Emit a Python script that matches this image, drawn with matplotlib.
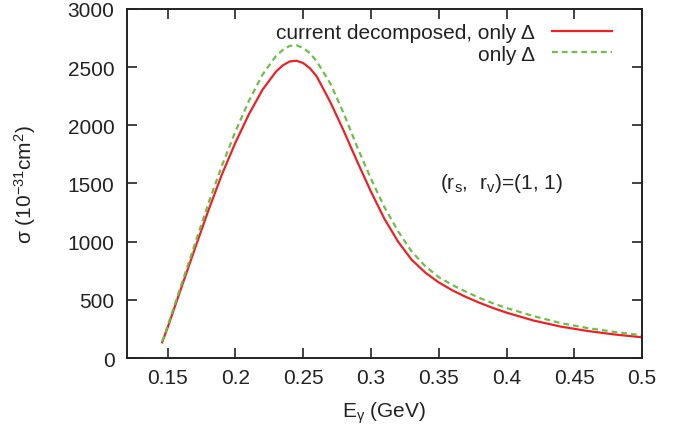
import matplotlib
matplotlib.use('Agg')
import matplotlib.pyplot as plt

plt.rcParams['font.family'] = ['Liberation Sans', 'DejaVu Sans']
plt.rcParams['mathtext.fontset'] = 'custom'
plt.rcParams['mathtext.rm'] = 'Liberation Sans'
plt.rcParams['mathtext.it'] = 'Liberation Sans:italic'

# photon energy (GeV)
e_gamma = [0.146, 0.15, 0.16, 0.17, 0.18, 0.19, 0.20, 0.21, 0.22, 0.23, 0.235,
           0.24, 0.245, 0.25, 0.255, 0.26, 0.27, 0.28, 0.29, 0.30, 0.31, 0.32,
           0.33, 0.34, 0.35, 0.36, 0.37, 0.38, 0.39, 0.40, 0.42, 0.44, 0.46,
           0.48, 0.50]
# cross sections (10^-31 cm^2)
sigma_decomposed = [135, 260, 600, 935, 1265, 1575, 1850, 2095, 2305, 2462, 2515,
                    2548, 2555, 2535, 2490, 2420, 2200, 1950, 1685, 1430, 1195, 1000,
                    845, 735, 650, 582, 525, 475, 430, 390, 322, 270, 232,
                    202, 178]
sigma_only_delta = [140, 275, 625, 975, 1325, 1650, 1945, 2210, 2435, 2596, 2648,
                    2682, 2688, 2665, 2620, 2550, 2360, 2100, 1810, 1540, 1295, 1090,
                    915, 790, 695, 628, 570, 517, 470, 430, 360, 300, 257,
                    224, 195]

x_ticks = [0.15, 0.2, 0.25, 0.3, 0.35, 0.4, 0.45, 0.5]
y_ticks = [0, 500, 1000, 1500, 2000, 2500, 3000]

fig = plt.figure(figsize=(6.86, 4.31), dpi=100)
ax = fig.add_axes([0.185, 0.167, 0.751, 0.810])

ax.plot(e_gamma, sigma_decomposed, color='#ec2227', lw=1.6,
        label='current decomposed, only Δ')
ax.plot(e_gamma, sigma_only_delta, color='#6dbf47', lw=1.6, dashes=(2.6, 1.8),
        label='only Δ')

ax.set_xlim(0.12, 0.5)
ax.set_ylim(0, 3000)
ax.set_xticks(x_ticks)
ax.set_xticklabels(['%g' % t for t in x_ticks])
ax.set_yticks(y_ticks)

txt = '#222222'
for s in ax.spines.values():
    s.set_linewidth(1.4)
    s.set_color(txt)
ax.tick_params(direction='in', length=7, width=1.2, top=True, right=True,
               labelsize=15, colors=txt)
ax.tick_params(axis='x', pad=7)
ax.tick_params(axis='y', pad=9)

ax.set_xlabel(r'E$_\mathrm{γ}$ (GeV)', fontsize=15, color=txt)
ax.set_ylabel(r'σ (10$^{-31}$cm$^2$)', fontsize=15, color=txt)
ax.xaxis.set_label_coords(0.5, -0.118)
ax.yaxis.set_label_coords(-0.172, 0.5)

ax.text(0.608, 0.504, r'(r$_\mathrm{s}$,  r$_\mathrm{v}$)=(1, 1)', transform=ax.transAxes,
        fontsize=15, color=txt, va='center', ha='left')

leg = ax.legend(loc='upper right', frameon=False, markerfirst=False, fontsize=15,
                handlelength=2.9, handletextpad=0.8, labelspacing=0.1,
                borderaxespad=0.3, bbox_to_anchor=(0.97, 1.0))
for t in leg.get_texts():
    t.set_color(txt)

fig.savefig('out.png', dpi=100)
